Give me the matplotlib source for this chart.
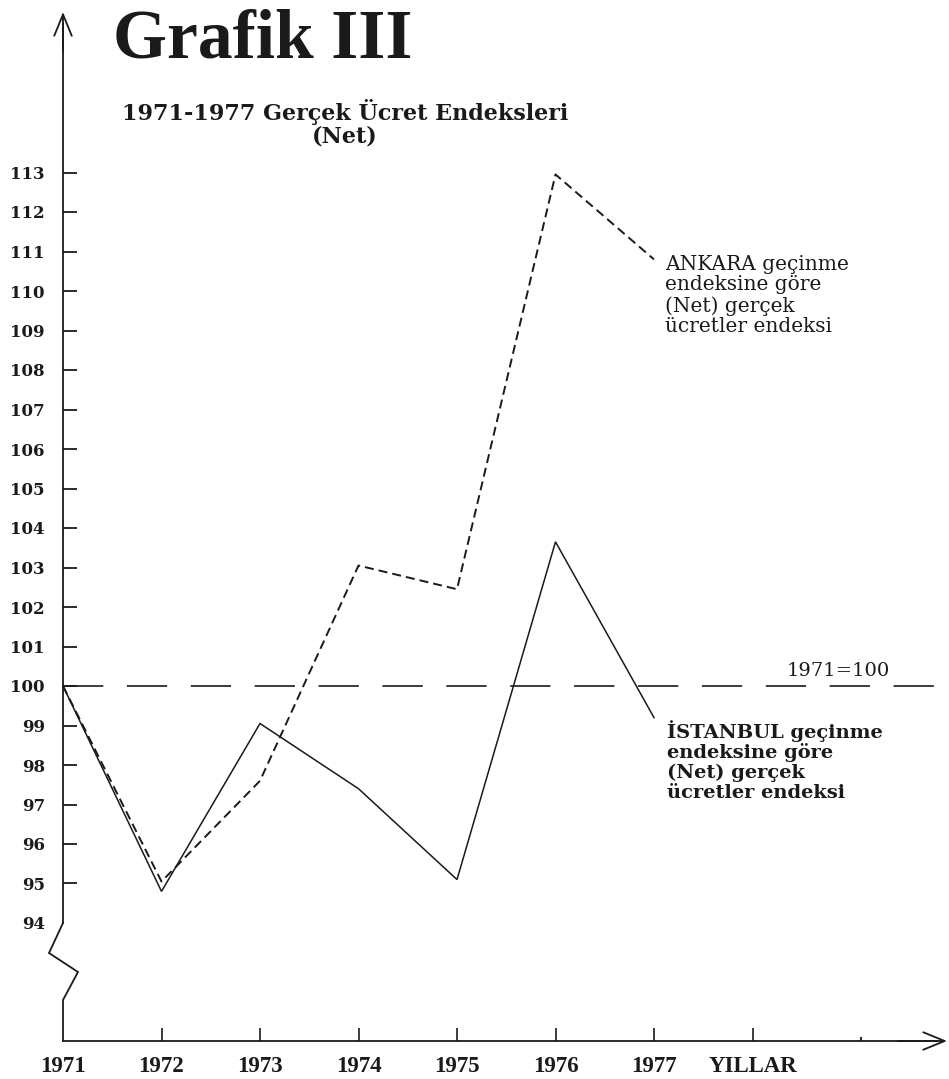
import matplotlib
matplotlib.use("Agg")
import matplotlib.pyplot as plt

# ---- data ----
years = [1971, 1972, 1973, 1974, 1975, 1976, 1977]
istanbul = [100.0, 94.8, 99.05, 97.4, 95.1, 103.65, 99.2]
ankara = [100.0, 95.05, 97.6, 103.05, 102.45, 112.95, 110.8]
y_ticks = list(range(94, 114))
x_ticks = [1971, 1972, 1973, 1974, 1975, 1976, 1977, 1978]
x_labels = ["1971", "1972", "1973", "1974", "1975", "1976", "1977", "YILLAR"]
base_value = 100

title = "Grafik III"
subtitle1 = "1971-1977 Gerçek Ücret Endeksleri"
subtitle2 = "(Net)"
ankara_label = "ANKARA geçinme\nendeksine göre\n(Net) gerçek\nücretler endeksi"
istanbul_label = "İSTANBUL geçinme\nendeksine göre\n(Net) gerçek\nücretler endeksi"
base_label = "1971=100"

plt.rcParams['lines.scale_dashes'] = False

W, H = 949, 1079
fig = plt.figure(figsize=(W / 100, H / 100), dpi=100)
ax = fig.add_axes([0, 0, 1, 1])

# pixel mapping: 1971 -> x=63 px, 98.5 px/year ; 100 -> y=686 px, 39.5 px/unit
px_year = 98.5
px_unit = 39.5
x0_px = 63
y100_px = 686
ax.set_xlim(1971 - x0_px / px_year, 1971 + (W - x0_px) / px_year)
ax.set_ylim(100 - (H - y100_px) / px_unit, 100 + y100_px / px_unit)

ink = "#1a1a1a"
y_axis_bottom = 100 - (1041 - y100_px) / px_unit
y_axis_top = 100 + (y100_px - 12) / px_unit
x_axis_right = 1971 + (947 - x0_px) / px_year

for s in ["top", "right"]:
    ax.spines[s].set_visible(False)
ax.spines["left"].set_position(("data", 1971))
ax.spines["left"].set_bounds(94, y_axis_top - 0.3)
ax.spines["bottom"].set_position(("data", y_axis_bottom))
ax.spines["bottom"].set_bounds(1971, x_axis_right - 0.1)
for s in ["left", "bottom"]:
    ax.spines[s].set_linewidth(1.3)
    ax.spines[s].set_color(ink)

# axis break on the y axis
brk_x = [1971, 1971 - 14 / px_year, 1971 + 15 / px_year, 1971, 1971]
brk_y = [94, 100 - 267 / px_unit, 100 - 286 / px_unit, 100 - 314 / px_unit, y_axis_bottom]
ax.plot(brk_x, brk_y, color=ink, lw=1.3, solid_joinstyle="miter", clip_on=False)

# arrow heads
ax.annotate("", xy=(1971, y_axis_top), xytext=(1971, y_axis_top - 1.0),
            arrowprops=dict(arrowstyle="->,head_length=1.1,head_width=0.45",
                            lw=1.3, color=ink, mutation_scale=14, shrinkA=0, shrinkB=0))
ax.annotate("", xy=(x_axis_right, y_axis_bottom), xytext=(x_axis_right - 0.5, y_axis_bottom),
            arrowprops=dict(arrowstyle="->,head_length=1.1,head_width=0.45",
                            lw=1.3, color=ink, mutation_scale=14, shrinkA=0, shrinkB=0))

# ticks
ax.set_yticks(y_ticks)
ax.set_yticklabels([str(v) for v in y_ticks], fontfamily="DejaVu Serif",
                   fontweight="bold", fontsize=12, color=ink)
ax.tick_params(axis="y", direction="in", length=10, width=1.3, pad=13, colors=ink)
ax.yaxis.get_major_ticks()[0].tick1line.set_visible(False)

ax.set_xticks(x_ticks)
ax.set_xticklabels(x_labels, fontfamily="Liberation Serif", fontweight="bold",
                   fontsize=16.5, color=ink)
ax.tick_params(axis="x", direction="in", length=9.5, width=1.2, pad=11, colors=ink)
ax.xaxis.get_major_ticks()[0].tick1line.set_visible(False)
ax.set_xticks([1979.1], minor=True)
ax.tick_params(axis="x", which="minor", direction="in", length=3, width=1.2)

# base line 1971 = 100
ax.plot([1971, ax.get_xlim()[1]], [base_value, base_value], color=ink, lw=1.2,
        dashes=(29, 17))
ax.text(1971 + (787 - x0_px) / px_year, base_value + 10 / px_unit, base_label,
        fontfamily="DejaVu Serif", fontsize=14, color=ink, ha="left", va="baseline")

# series
ax.plot(years, istanbul, color=ink, lw=1.1, solid_joinstyle="miter")
ax.plot(years, ankara, color=ink, lw=1.4, dashes=(6.5, 3.6))

# series labels (anchored at the baseline of the last line)
ax.text(1977.11, 100 + (y100_px - 332) / px_unit, ankara_label,
        fontfamily="DejaVu Serif", fontsize=14.5,
        color=ink, ha="left", va="baseline", linespacing=1.1)
ax.text(1977.13, 100 - (798 - y100_px) / px_unit, istanbul_label,
        fontfamily="DejaVu Serif", fontweight="bold",
        fontsize=14, color=ink, ha="left", va="baseline", linespacing=1.12)

# titles
fig.text(113 / W, 1 - 58 / H, title, fontfamily="Liberation Serif", fontweight="bold",
         fontsize=50, color=ink, ha="left", va="baseline")
fig.text(345 / W, 1 - 120 / H, subtitle1, fontfamily="DejaVu Serif", fontweight="bold",
         fontsize=16, color=ink, ha="center", va="baseline")
fig.text(345 / W, 1 - 142 / H, subtitle2, fontfamily="DejaVu Serif", fontweight="bold",
         fontsize=16, color=ink, ha="center", va="baseline")

fig.savefig("out.png", dpi=100, facecolor="white")
